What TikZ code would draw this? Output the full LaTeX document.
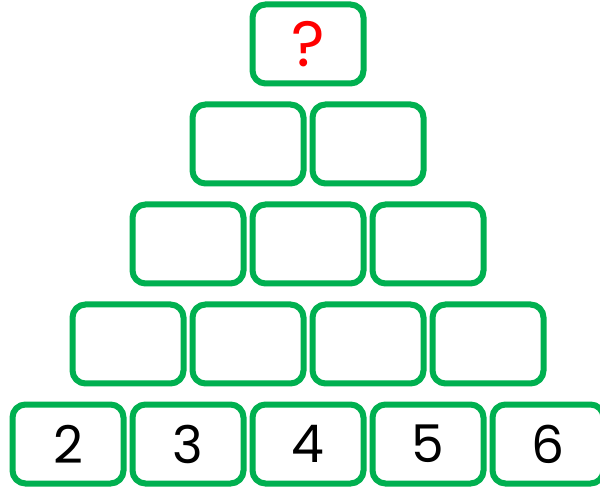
\documentclass[tikz,border=0pt]{standalone}
\usepackage{fontspec}
\setmainfont{Poppins}
\usepackage{tikz}

\definecolor{boxgreen}{RGB}{0,176,80}
\definecolor{qred}{RGB}{255,0,0}

\tikzset{
  brick/.style={draw=boxgreen, line width=6pt, rounded corners=13pt,
    minimum width=111pt, minimum height=79pt, inner sep=0pt,
    font=\fontsize{52}{52}\selectfont},
}

\begin{document}
\begin{tikzpicture}[x=1pt, y=-1pt]

  % Canvas of the reference
  \useasboundingbox (0,0) rectangle (600,494);

  % Bottom row with the given numbers
  \foreach \n [count=\c from 0] in {2,3,4,5,6} {
    \node[brick] (b5\c) at (68+120*\c, 444) {\raisebox{-7pt}{\n}};
  }

  % Empty rows of the pyramid
  \foreach \r/\k/\x/\y in {4/3/128/344, 3/2/188/244, 2/1/248/144} {
    \foreach \c in {0,...,\k} {
      \node[brick] (b\r\c) at (\x+120*\c, \y) {};
    }
  }

  % Top brick with the unknown
  \node[brick, text=qred, font=\fontsize{64}{64}\selectfont] (b10) at (308, 44) {\raisebox{-6pt}{?}};

\end{tikzpicture}
\end{document}
